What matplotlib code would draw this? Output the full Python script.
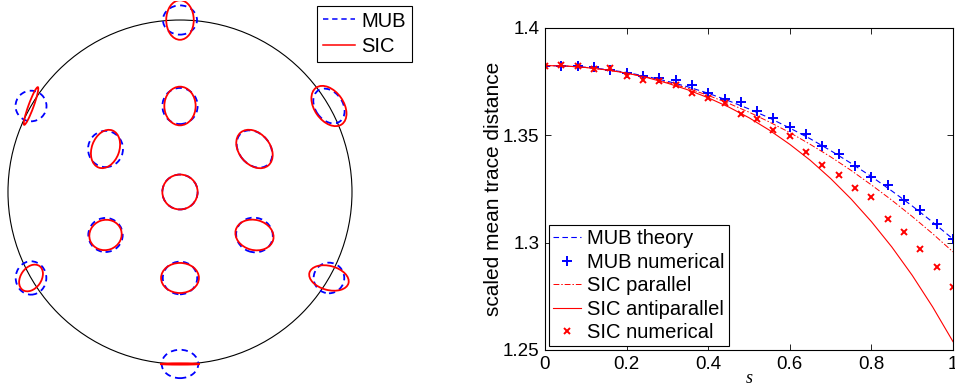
import numpy as np
import matplotlib
matplotlib.use("Agg")
import matplotlib.pyplot as plt
from matplotlib.patches import Ellipse, Circle
from matplotlib.lines import Line2D

plt.rcParams["font.family"] = ["Liberation Sans", "DejaVu Sans"]

# ----------------------------
# Left panel: error ellipses on the unit disk
# ----------------------------

# ellipse centres in polar form (radius, angle in degrees)
ring_r   = [0.0, 0.5, 0.5, 0.5, 0.5, 0.5, 0.5, 1.0, 1.0, 1.0, 1.0, 1.0, 1.0]
ring_deg = [0, 90, 30, 150, 210, 270, 330, 90, 30, 150, 210, 270, 330]

mub_w   = [0.205, 0.205, 0.24, 0.203, 0.200, 0.200, 0.215, 0.198, 0.22, 0.180, 0.178, 0.213, 0.178]
mub_h   = [0.203, 0.210, 0.18, 0.211, 0.198, 0.190, 0.200, 0.170, 0.16, 0.178, 0.194, 0.165, 0.178]
mub_ang = [0, 0, -50, 0, 0, 0, -20, 0, -55, 0, 0, 0, 0]

sic_w   = [0.205, 0.182, 0.25, 0.23, 0.190, 0.220, 0.225, 0.16, 0.26, 0.233, 0.17, 0.230, 0.235]
sic_h   = [0.203, 0.225, 0.18, 0.16, 0.175, 0.175, 0.175, 0.23, 0.17, 0.030, 0.12, 0.008, 0.140]
sic_ang = [0, 0, -50, 70, 20, 0, -15, 0, -55, 70, 55, 0, -15]

# ----------------------------
# Right panel: scaled mean trace distance vs s
# ----------------------------

s_curve = [0.00, 0.05, 0.10, 0.15, 0.20, 0.25, 0.30, 0.35, 0.40, 0.45, 0.50,
           0.55, 0.60, 0.65, 0.70, 0.75, 0.80, 0.85, 0.90, 0.95, 1.00]
mub_theory = [1.3825, 1.3823, 1.3817, 1.3807, 1.3793, 1.3774, 1.3752, 1.3726, 1.3696, 1.3661, 1.3623,
              1.3581, 1.3534, 1.3484, 1.3429, 1.3370, 1.3308, 1.3241, 1.3171, 1.3096, 1.3017]
sic_parallel = [1.3825, 1.3823, 1.3816, 1.3805, 1.3790, 1.3771, 1.3747, 1.3719, 1.3686, 1.3649, 1.3608,
                1.3562, 1.3513, 1.3458, 1.3400, 1.3337, 1.3269, 1.3198, 1.3122, 1.3042, 1.2957]
sic_antiparallel = [1.3825, 1.3823, 1.3816, 1.3805, 1.3790, 1.3769, 1.3743, 1.3712, 1.3675, 1.3632, 1.3582,
                    1.3524, 1.3458, 1.3384, 1.3299, 1.3204, 1.3098, 1.2980, 1.2848, 1.2701, 1.2539]

s_points = [0.00, 0.04, 0.08, 0.12, 0.16, 0.20, 0.24, 0.28, 0.32, 0.36, 0.40, 0.44, 0.48,
            0.52, 0.56, 0.60, 0.64, 0.68, 0.72, 0.76, 0.80, 0.84, 0.88, 0.92, 0.96, 1.00]
mub_numerical = [1.3825, 1.3825, 1.3825, 1.3817, 1.3804, 1.3789, 1.3778, 1.3769, 1.3756, 1.3736, 1.3699,
                 1.3669, 1.3654, 1.3613, 1.3579, 1.3539, 1.3508, 1.3450, 1.3415, 1.3359, 1.3304,
                 1.3269, 1.3199, 1.3152, 1.3087, 1.3016]
sic_numerical = [1.3825, 1.3828, 1.3821, 1.3807, 1.3812, 1.3776, 1.3758, 1.3755, 1.3733, 1.3699, 1.3675,
                 1.3649, 1.3599, 1.3578, 1.3523, 1.3498, 1.3424, 1.3362, 1.3317, 1.3256, 1.3211,
                 1.3112, 1.3051, 1.2972, 1.2888, 1.2795]

x_ticks = [0, 0.2, 0.4, 0.6, 0.8, 1]
x_tick_labels = ["0", "0.2", "0.4", "0.6", "0.8", "1"]
y_ticks = [1.25, 1.3, 1.35, 1.4]
y_tick_labels = ["1.25", "1.3", "1.35", "1.4"]

W, H = 955, 389
fig = plt.figure(figsize=(W / 100, H / 100), dpi=100)

# ----------------------------
# Disk panel
# ----------------------------

ax1 = fig.add_axes([1.1 / W, (H - 384.6) / H, 402.5 / W, 383.5 / H])
ax1.set_xlim(-1.04, 1.30)
ax1.set_ylim(-1.12, 1.11)
ax1.axis("off")

ax1.add_patch(Circle((0, 0), 1.0, fill=False, ec="black", lw=0.8))

for i in range(len(ring_r)):
    t = np.deg2rad(ring_deg[i])
    cx, cy = ring_r[i] * np.cos(t), ring_r[i] * np.sin(t)
    ax1.add_patch(Ellipse((cx, cy), mub_w[i], mub_h[i], angle=mub_ang[i], fill=False,
                          ec="blue", lw=1.3, ls=(0, (3.5, 2.5))))
    ax1.add_patch(Ellipse((cx, cy), sic_w[i], sic_h[i], angle=sic_ang[i], fill=False,
                          ec="red", lw=1.3))

disk_handles = [Line2D([], [], color="blue", lw=1.1, ls=(0, (3.5, 2.5))),
                Line2D([], [], color="red", lw=1.1)]
leg1 = fig.legend(disk_handles, ["MUB", "SIC"], loc="upper left",
                  bbox_to_anchor=(317 / W, 1 - 5.5 / H), fontsize=14.5,
                  fancybox=False, framealpha=1, edgecolor="black",
                  handlelength=1.6, handletextpad=0.3, borderpad=0.3,
                  labelspacing=0.3, borderaxespad=0)
leg1.get_frame().set_linewidth(0.8)

# ----------------------------
# Trace distance panel
# ----------------------------

ax2 = fig.add_axes([545 / W, (H - 350) / H, 408 / W, 322 / H])

ax2.plot(s_curve, mub_theory, color="blue", lw=0.8, ls=(0, (5, 3)), label="MUB theory")
ax2.plot(s_points, mub_numerical, ls="none", marker="+", ms=7, mew=1.4, color="blue",
         label="MUB numerical")
ax2.plot(s_curve, sic_parallel, color="red", lw=0.7, ls=(0, (6, 2, 1.5, 2)), label="SIC parallel")
ax2.plot(s_curve, sic_antiparallel, color="red", lw=0.8, label="SIC antiparallel")
ax2.plot(s_points, sic_numerical, ls="none", marker="x", ms=5, mew=1.4, color="red",
         label="SIC numerical")

ax2.set_xlim(0, 1)
ax2.set_ylim(1.25, 1.4)
ax2.set_xticks(x_ticks)
ax2.set_xticklabels(x_tick_labels)
ax2.set_yticks(y_ticks)
ax2.set_yticklabels(y_tick_labels)
ax2.tick_params(direction="in", top=True, right=True, length=4, width=0.6,
                labelsize=13.5, pad=4)
for sp in ax2.spines.values():
    sp.set_linewidth(0.8)

ax2.set_xlabel("s", fontfamily="Liberation Serif", fontstyle="italic", fontsize=13, labelpad=-2)
ax2.set_ylabel("scaled mean trace distance", fontsize=15, labelpad=0)

leg2 = ax2.legend(loc="lower left", bbox_to_anchor=(0.0098, 0.0124), borderaxespad=0,
                  fontsize=14.5, fancybox=False, framealpha=1, edgecolor="black",
                  handlelength=1.4, handletextpad=0.3, borderpad=0.2, labelspacing=0.22)
leg2.get_frame().set_linewidth(0.8)

fig.savefig("out.png", dpi=100)
plt.close(fig)
